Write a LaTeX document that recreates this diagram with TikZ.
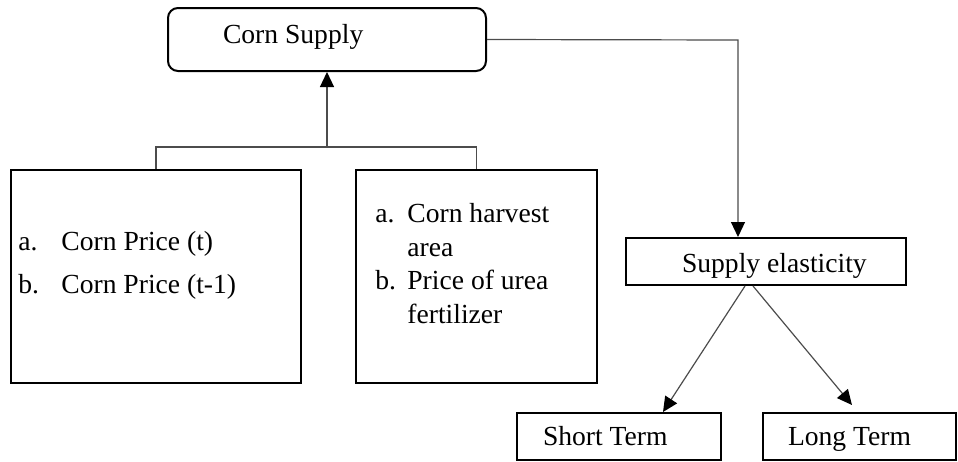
\documentclass[tikz,border=0pt]{standalone}
\usepackage{fontspec}
\setmainfont{Liberation Serif}
\usetikzlibrary{arrows.meta}

\tikzset{
    box/.style={draw,line width=1pt,inner xsep=0pt,inner ysep=0pt,align=flush left,
        text height=10.5pt,text depth=2pt,font=\fontsize{13.8}{16.75}\selectfont},
    listtxt/.style={anchor=base west,inner sep=0pt,align=flush left,
        font=\fontsize{13.8}{16.75}\selectfont},
    link/.style={draw=black!70,line width=0.6pt},
    tip/.style={link,-{Triangle[width=7pt,length=7.5pt,color=black]}}
}

\begin{document}
\begin{tikzpicture}[x=0.5pt,y=-0.5pt]
    \useasboundingbox (0,0) rectangle (958,461);

    \node[box,rounded corners=5pt,minimum width=159pt,minimum height=31.5pt,text width=159pt,
        text height=7pt,text depth=3.5pt] (cs) at (327,39.5) {\hspace*{27.5pt}Corn Supply};

    \node[box,minimum width=145pt,minimum height=106.5pt] (lb) at (156,276.5) {};
    \node[box,minimum width=120.5pt,minimum height=106.5pt] (mb) at (476.5,276.5) {};
    % base anchor sits on the last line
    \node[listtxt] (lbtxt) at (18,293)
        {\makebox[21.5pt][l]{a.}Corn Price (t)\\[4.75pt]\makebox[21.5pt][l]{b.}Corn Price (t-1)};
    \node[listtxt] (mbtxt) at (375,323)
        {\makebox[16pt][l]{a.}Corn harvest\\\hspace*{16pt}area\\\makebox[16pt][l]{b.}Price of urea\\\hspace*{16pt}fertilizer};

    \node[box,minimum width=140pt,minimum height=23.5pt,text width=140pt,
        text height=12pt,text depth=1.5pt] (se) at (766,261.5) {\hspace*{28pt}Supply elasticity};
    \node[box,minimum width=102pt,minimum height=23.5pt,text width=102pt]
        (st) at (619,436.5) {\hspace*{13pt}Short Term};
    \node[box,minimum width=96.5pt,minimum height=23.5pt,text width=96.5pt]
        (lt) at (859.5,436.5) {\hspace*{12.5pt}Long Term};

    \coordinate (join) at (327,147);
    \coordinate (bend) at (738,40);
    \draw[link] (lb.north) |- (join) -| (mb.north);
    \draw[tip] (join) -- (cs.south);
    \draw[tip] (cs.east) -- (bend) -- (bend |- se.north);
    \draw[tip] ([xshift=-10.5pt]se.south) -- ([xshift=22pt]st.north);
    \draw[tip] ([xshift=-6.5pt]se.south) -- ([xshift=-3.75pt,yshift=3.5pt]lt.north);
\end{tikzpicture}
\end{document}
